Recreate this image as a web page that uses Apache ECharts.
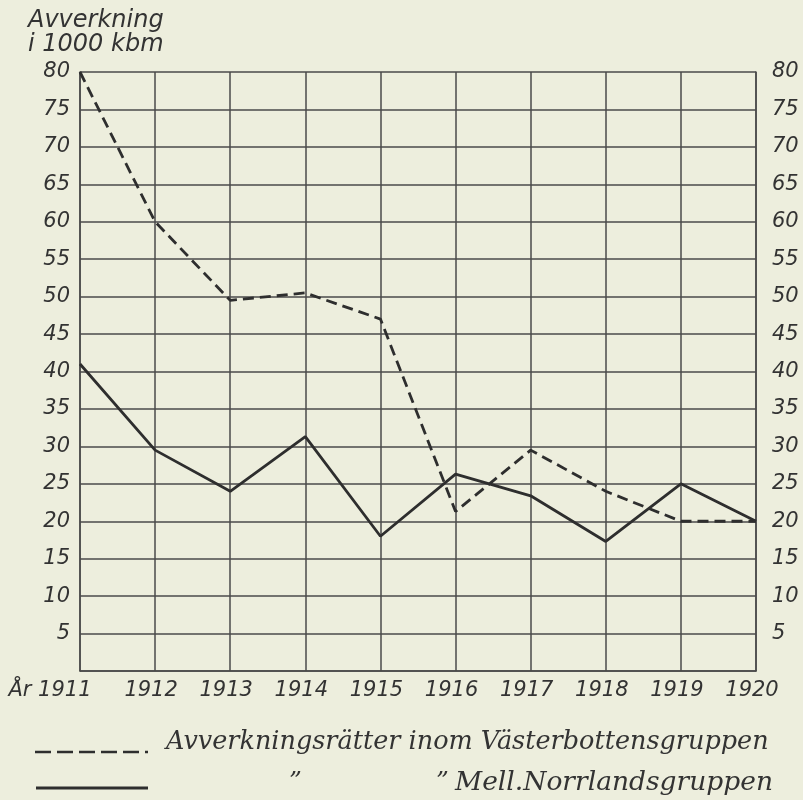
<!DOCTYPE html>
<html>
<head>
<meta charset="utf-8">
<script src="https://cdn.jsdelivr.net/npm/echarts@6/dist/echarts.min.js"></script>
<style>
html,body{margin:0;padding:0;background:#edeedd;}
#chart{width:803px;height:800px;}
</style>
</head>
<body>
<div id="chart"></div>
<script>
// Data
const years = ['1911','1912','1913','1914','1915','1916','1917','1918','1919','1920'];
const vasterbotten = [80, 60, 49.5, 50.5, 47, 21.3, 29.5, 24, 20, 20];
const mellNorrland = [41, 29.5, 24, 31.3, 18, 26.3, 23.4, 17.3, 25, 20];
const yTicks = [5,10,15,20,25,30,35,40,45,50,55,60,65,70,75,80];

const ink = '#333333';
const gridInk = '#4a4a4a';
const labelFont = {fontFamily:'DejaVu Sans', fontStyle:'italic', fontSize:21, color:ink};

const chart = echarts.init(document.getElementById('chart'));
chart.setOption({
  backgroundColor:'#edeedd',
  animation:false,
  grid:{left:80, right:47, top:72, bottom:129},
  xAxis:{
    type:'category', data:years, boundaryGap:false,
    axisLine:{show:true, lineStyle:{color:gridInk, width:1.5}},
    axisTick:{show:false},
    axisLabel:Object.assign({interval:0, margin:9,
      formatter:(v,i)=> i===0 ? '{a|År }{f|'+v+'}' : '{n|'+v+'}',
      rich:{
        a:{fontFamily:'DejaVu Sans', fontStyle:'italic', fontSize:21, color:ink},
        f:{fontFamily:'DejaVu Sans', fontStyle:'italic', fontSize:21, color:ink, padding:[0,60,0,0]},
        n:{fontFamily:'DejaVu Sans', fontStyle:'italic', fontSize:21, color:ink, padding:[0,8,0,0]}
      }}, labelFont),
    splitLine:{show:true, interval:0, lineStyle:{color:gridInk, width:1.5}}
  },
  yAxis:[{
    type:'value', min:0, max:80, interval:5, position:'left',
    axisLine:{show:true, lineStyle:{color:gridInk, width:1.5}},
    axisTick:{show:false},
    axisLabel:Object.assign({margin:10, formatter:v=> yTicks.indexOf(v)>=0 ? String(v) : ''}, labelFont),
    splitLine:{show:true, lineStyle:{color:gridInk, width:1.5}}
  },{
    type:'value', min:0, max:80, interval:5, position:'right',
    axisLine:{show:true, lineStyle:{color:gridInk, width:1.5}},
    axisTick:{show:false},
    axisLabel:Object.assign({margin:16, formatter:v=> yTicks.indexOf(v)>=0 ? String(v) : ''}, labelFont),
    splitLine:{show:false}
  }],
  series:[{
    name:'Avverkningsrätter inom Västerbottensgruppen',
    type:'line', data:vasterbotten, symbol:'none',
    lineStyle:{color:'#2e2e2e', width:2.8, type:[11,6]}
  },{
    name:'Mell.Norrlandsgruppen',
    type:'line', data:mellNorrland, symbol:'none',
    lineStyle:{color:'#2e2e2e', width:2.8, type:'solid'}
  }],
  graphic:[
    {type:'text', left:28, top:9, style:{text:'Avverkning', fontFamily:'DejaVu Sans', fontStyle:'italic', fontSize:24, fill:ink}},
    {type:'text', left:28, top:33, style:{text:'i 1000 kbm', fontFamily:'DejaVu Sans', fontStyle:'italic', fontSize:24, fill:ink}},
    {type:'line', shape:{x1:35, y1:752, x2:148, y2:752}, style:{stroke:'#2e2e2e', lineWidth:2.5, lineDash:[16,6]}},
    {type:'text', left:166, top:729, style:{text:'Avverkningsrätter inom Västerbottensgruppen', fontFamily:'DejaVu Serif', fontStyle:'italic', fontSize:25.5, fill:ink}},
    {type:'line', shape:{x1:36, y1:788, x2:148, y2:788}, style:{stroke:'#2e2e2e', lineWidth:3}},
    {type:'text', left:289, top:770, style:{text:'”', fontFamily:'DejaVu Serif', fontStyle:'italic', fontSize:25, fill:ink}},
    {type:'text', left:436, top:770, style:{text:'”', fontFamily:'DejaVu Serif', fontStyle:'italic', fontSize:25, fill:ink}},
    {type:'text', left:455, top:770, style:{text:'Mell.Norrlandsgruppen', fontFamily:'DejaVu Serif', fontStyle:'italic', fontSize:26.5, fill:ink}}
  ]
});
</script>
</body>
</html>
